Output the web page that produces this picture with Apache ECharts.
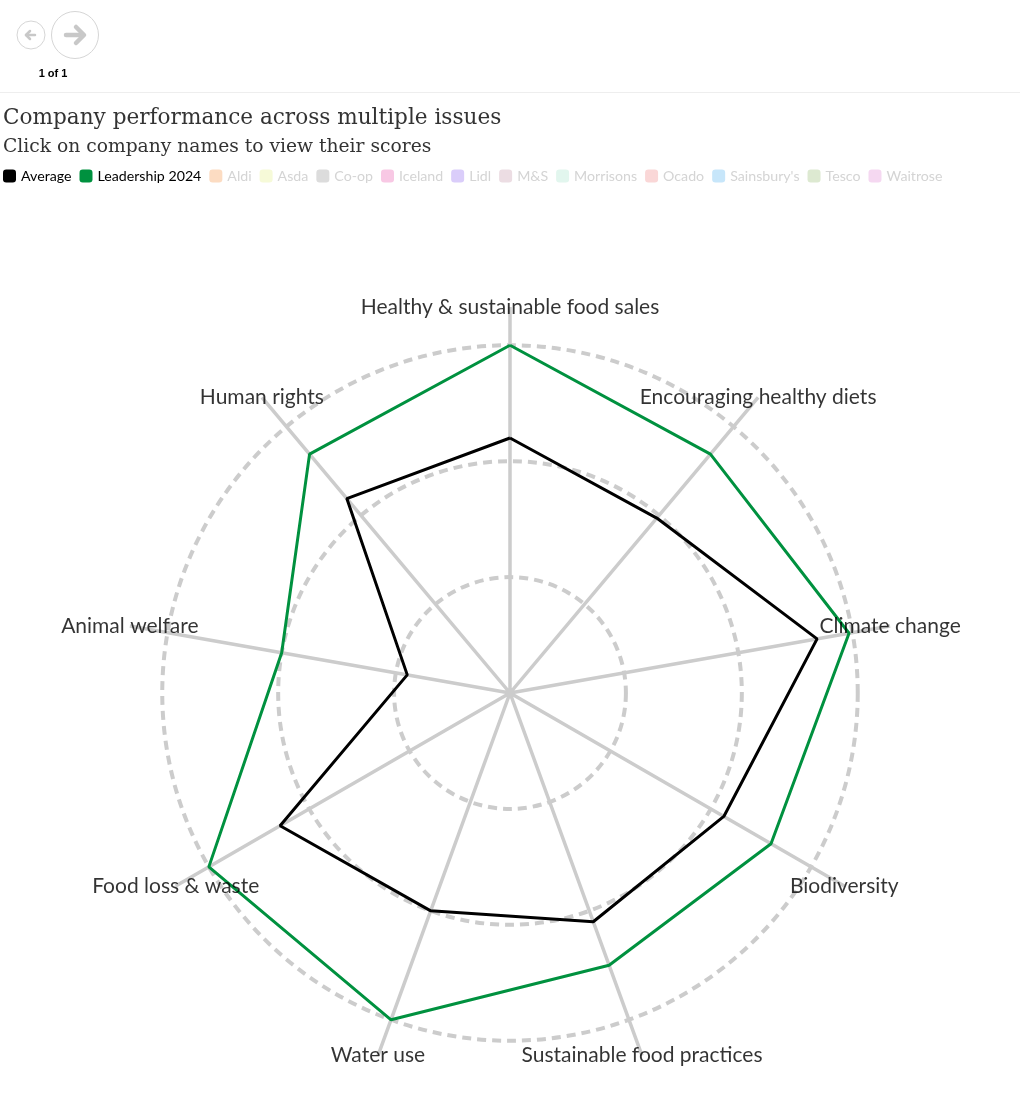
<!DOCTYPE html>
<html>
<head>
<meta charset="utf-8">
<script src="https://cdn.jsdelivr.net/npm/echarts@6/dist/echarts.min.js"></script>
<style>
  html, body { margin: 0; padding: 0; background: #fff; }
  #chart { width: 1020px; height: 1119px; }
</style>
</head>
<body>
<div id="chart"></div>
<script>
// 类目（雷达轴）
var categories = [
  'Healthy & sustainable food sales',
  'Encouraging healthy diets',
  'Climate change',
  'Biodiversity',
  'Sustainable food practices',
  'Water use',
  'Food loss & waste',
  'Animal welfare',
  'Human rights'
];

// 数值
var averageScores = [2.2, 1.97, 2.69, 2.13, 2.1, 2.0, 2.29, 0.9, 2.19];
var leadershipScores = [3.0, 2.69, 2.97, 2.6, 2.5, 3.0, 3.0, 2.0, 2.69];

// 图例
var legendNames = ['Average', 'Leadership 2024', 'Aldi', 'Asda', 'Co-op', 'Iceland', 'Lidl',
  'M&S', 'Morrisons', 'Ocado', "Sainsbury's", 'Tesco', 'Waitrose'];
var legendColors = ['#000000', '#00913f', '#fcdcc2', '#f6fad8', '#dcdcdc', '#f8c8e4', '#dacdfa',
  '#ecdde3', '#e2f6ee', '#fad7d7', '#c7e6fa', '#dde9d1', '#f5d8f1'];

var axisMax = 3.33; // 轴线超出外圈
var step = 360 / categories.length;

var chart = echarts.init(document.getElementById('chart'));

// 闭合多边形
function closed(vals) {
  var d = vals.map(function(v, i) { return [v, i * step]; });
  d.push([vals[0], 360]);
  return d;
}

var series = [{
  name: 'Average',
  type: 'line',
  coordinateSystem: 'polar',
  data: closed(averageScores),
  symbol: 'none',
  color: legendColors[0],
  lineStyle: { width: 3, color: legendColors[0] },
  z: 5
}, {
  name: 'Leadership 2024',
  type: 'line',
  coordinateSystem: 'polar',
  data: closed(leadershipScores),
  symbol: 'none',
  color: legendColors[1],
  lineStyle: { width: 3, color: legendColors[1] },
  z: 5
}];

// 其他公司（未显示）
legendNames.slice(2).forEach(function(n, i) {
  series.push({
    name: n,
    type: 'line',
    coordinateSystem: 'polar',
    data: [],
    color: legendColors[i + 2]
  });
});

// 轴名称
series.push({
  type: 'scatter',
  coordinateSystem: 'polar',
  silent: true,
  symbolSize: 1,
  itemStyle: { color: 'rgba(0,0,0,0)' },
  data: categories.map(function(c, i) { return { name: c, value: [axisMax, i * step] }; }),
  label: {
    show: true,
    position: 'inside',
    formatter: '{b}',
    color: '#000',
    fontFamily: 'Lato',
    fontSize: 21
  },
  z: 10
});

var option = {
  backgroundColor: '#fff',
  animation: false,
  polar: {
    center: [510, 693],
    radius: 386
  },
  angleAxis: {
    type: 'value',
    min: 0,
    max: 360,
    interval: step,
    startAngle: 90,
    axisLine: { show: false },
    axisTick: { show: false },
    axisLabel: { show: false },
    splitLine: { show: true, lineStyle: { color: '#cccccc', width: 3.5 } }
  },
  radiusAxis: {
    min: 0,
    max: axisMax,
    interval: 1,
    axisLine: { show: false },
    axisTick: { show: false },
    axisLabel: { show: false },
    splitLine: {
      show: true,
      lineStyle: {
        color: ['rgba(0,0,0,0)', '#cccccc', '#cccccc', '#cccccc', 'rgba(0,0,0,0)'],
        width: 4,
        type: [9, 6]
      }
    }
  },
  legend: {
    left: 3,
    top: 169,
    padding: 0,
    itemWidth: 13,
    itemHeight: 13,
    itemGap: 8,
    icon: 'roundRect',
    selectedMode: false,
    textStyle: { fontFamily: 'Lato', fontSize: 14.2, color: '#000' },
    data: legendNames.map(function(n, i) {
      return {
        name: n,
        itemStyle: { color: legendColors[i] },
        textStyle: { color: i < 2 ? '#000' : '#d4d4d4' }
      };
    })
  },
  graphic: [
    // 翻页按钮
    { type: 'circle', shape: { cx: 31, cy: 35, r: 14 }, style: { fill: '#fff', stroke: '#d6d6d6', lineWidth: 1 } },
    { type: 'circle', shape: { cx: 75, cy: 35, r: 23.5 }, style: { fill: '#fff', stroke: '#d6d6d6', lineWidth: 1 } },
    { type: 'polyline', shape: { points: [[35, 35], [26, 35]] }, style: { stroke: '#c8c8c8', lineWidth: 2.5, lineCap: 'round' } },
    { type: 'polyline', shape: { points: [[30, 31], [26, 35], [30, 39]] }, style: { stroke: '#c8c8c8', lineWidth: 2.5, lineCap: 'round', lineJoin: 'round', fill: null } },
    { type: 'polyline', shape: { points: [[66, 35], [83, 35]] }, style: { stroke: '#c8c8c8', lineWidth: 4.5, lineCap: 'round' } },
    { type: 'polyline', shape: { points: [[76, 27], [84, 35], [76, 43]] }, style: { stroke: '#c8c8c8', lineWidth: 4.5, lineCap: 'round', lineJoin: 'round', fill: null } },
    { type: 'text', x: 53, y: 74, style: { text: '1 of 1', fontFamily: 'Liberation Sans', fontSize: 11, fontWeight: 'bold', fill: '#000', align: 'center', verticalAlign: 'middle' } },
    { type: 'line', shape: { x1: 0, y1: 92.5, x2: 1020, y2: 92.5 }, style: { stroke: '#eeeeee', lineWidth: 1 } },
    // 标题
    { type: 'text', x: 3, y: 118, style: { text: 'Company performance across multiple issues', fontFamily: 'DejaVu Serif', fontSize: 21.6, fill: '#333', verticalAlign: 'middle' } },
    { type: 'text', x: 3, y: 147, style: { text: 'Click on company names to view their scores', fontFamily: 'DejaVu Serif', fontSize: 18.7, fill: '#333', verticalAlign: 'middle' } }
  ],
  series: series
};

chart.setOption(option);
</script>
</body>
</html>
